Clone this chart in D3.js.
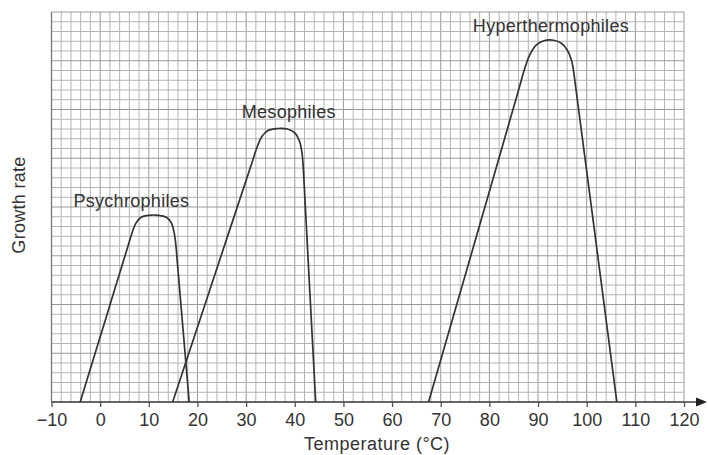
<!DOCTYPE html>
<html>
<head>
<meta charset="utf-8">
<script src="https://cdn.jsdelivr.net/npm/d3@7"></script>
<style>
  body { margin: 0; background: #fff; }
  text { font-family: "Liberation Sans", Arial, sans-serif; fill: #333; }
</style>
</head>
<body>
<div class="chart"></div>
<script>
// temperature ticks along the x axis
const tempTicks = [-10, 0, 10, 20, 30, 40, 50, 60, 70, 80, 90, 100, 110, 120];
const tickLabels = ["\u221210", "0", "10", "20", "30", "40", "50", "60", "70", "80", "90", "100", "110", "120"];

// growth rate curves, [temperature, growth rate in grid squares]
const psychrophiles = [
  [-4.1, 0], [1.15, 8.55], [5.6, 15.8], [6.4, 17.1], [7.3, 18.3], [8.4, 18.95],
  [10, 19.15], [12, 19.15], [13.6, 18.95], [14.6, 18.4], [15.2, 17.4], [15.6, 15.9],
  [15.8, 14.7], [16.95, 7.95], [18.3, 0],
];
const mesophiles = [
  [14.9, 0], [23.6, 13.1], [31.3, 24.7], [32.3, 26.2], [33.2, 27.2], [34.5, 27.85],
  [36.5, 28.05], [38.5, 28.0], [40, 27.6], [41, 26.7], [41.5, 25.5], [41.75, 24],
  [41.9, 22.6], [43, 12.2], [44.3, 0],
];
const hyperthermophiles = [
  [67.5, 0], [77, 16.4], [86, 32], [87.2, 34.1], [88.3, 35.6], [89.6, 36.6],
  [91.2, 37.05], [93.2, 37.1], [94.8, 36.8], [96, 36.1], [96.9, 35], [97.4, 33.6],
  [97.7, 32.45], [101.8, 16.8], [106.2, 0],
];

const curveNames = ["Psychrophiles", "Mesophiles", "Hyperthermophiles"];

const width = 708;
const height = 455;

const svg = d3
  .select(".chart")
  .append("svg")
  .attr("width", width)
  .attr("height", height);

const x = d3.scaleLinear().domain([-10, 120]).range([51.5, 684]);
const y = d3.scaleLinear().domain([0, 40]).range([402, 12]);

// graph paper
const grid = svg.append("g");
grid
  .selectAll(".vline")
  .data(d3.range(-10, 121, 2))
  .enter()
  .append("line")
  .attr("x1", (d) => x(d))
  .attr("x2", (d) => x(d))
  .attr("y1", y(0))
  .attr("y2", y(40))
  .attr("stroke", (d) => (d % 10 == 0 ? "#9a9a9a" : "#b4b4b4"))
  .attr("stroke-width", 1);

grid
  .selectAll(".hline")
  .data(d3.range(0, 41, 1))
  .enter()
  .append("line")
  .attr("x1", x(-10))
  .attr("x2", x(120))
  .attr("y1", (d) => y(d))
  .attr("y2", (d) => y(d))
  .attr("stroke", (d) => (d % 5 == 0 ? "#9a9a9a" : "#b4b4b4"))
  .attr("stroke-width", 1);

// left border
svg
  .append("line")
  .attr("x1", x(-10))
  .attr("x2", x(-10))
  .attr("y1", y(0))
  .attr("y2", y(40))
  .attr("stroke", "#777")
  .attr("stroke-width", 1.3);

// x axis with arrow
svg
  .append("line")
  .attr("x1", x(-10))
  .attr("x2", 699)
  .attr("y1", y(0))
  .attr("y2", y(0))
  .attr("stroke", "#444")
  .attr("stroke-width", 1.6);

svg
  .append("path")
  .attr("d", `M${707},${y(0)} L${696},${y(0) - 4.5} L${696},${y(0) + 4.5} Z`)
  .attr("fill", "#222");

const axis = d3
  .axisBottom(x)
  .tickValues(tempTicks)
  .tickFormat((d, i) => tickLabels[i])
  .tickSize(5)
  .tickPadding(6);

const axisG = svg
  .append("g")
  .attr("transform", `translate(0,${y(0)})`)
  .call(axis);
axisG.select(".domain").remove();
axisG.selectAll(".tick line").attr("stroke", "#555").attr("stroke-width", 1.3);
axisG
  .selectAll(".tick text")
  .style("font-size", "18px")
  .style("font-family", '"Liberation Sans", Arial, sans-serif')
  .attr("fill", "#333");

// axis titles
svg
  .append("text")
  .attr("x", 377)
  .attr("y", 450)
  .attr("text-anchor", "middle")
  .style("font-size", "18px")
  .style("letter-spacing", "0.5px")
  .text("Temperature (\u00b0C)");

svg
  .append("text")
  .attr("transform", "translate(25,205) rotate(-90)")
  .attr("text-anchor", "middle")
  .style("font-size", "18px")
  .style("letter-spacing", "0.3px")
  .text("Growth rate");

// curves
const line = d3
  .line()
  .x((d) => x(d[0]))
  .y((d) => y(d[1]))
  .curve(d3.curveCatmullRom.alpha(0.5));

[psychrophiles, mesophiles, hyperthermophiles].forEach((series) => {
  svg
    .append("path")
    .attr("d", line(series))
    .attr("fill", "none")
    .attr("stroke", "#333")
    .attr("stroke-width", 1.7);
});

// curve labels, anchored in data coordinates
const labelAt = [[-5.5, 20], [29.1, 29.1], [76.6, 38]];
curveNames.forEach((name, i) => {
  svg
    .append("text")
    .attr("x", x(labelAt[i][0]))
    .attr("y", y(labelAt[i][1]))
    .style("font-size", "18px")
    .style("letter-spacing", "0.3px")
    .text(name);
});
</script>
</body>
</html>
